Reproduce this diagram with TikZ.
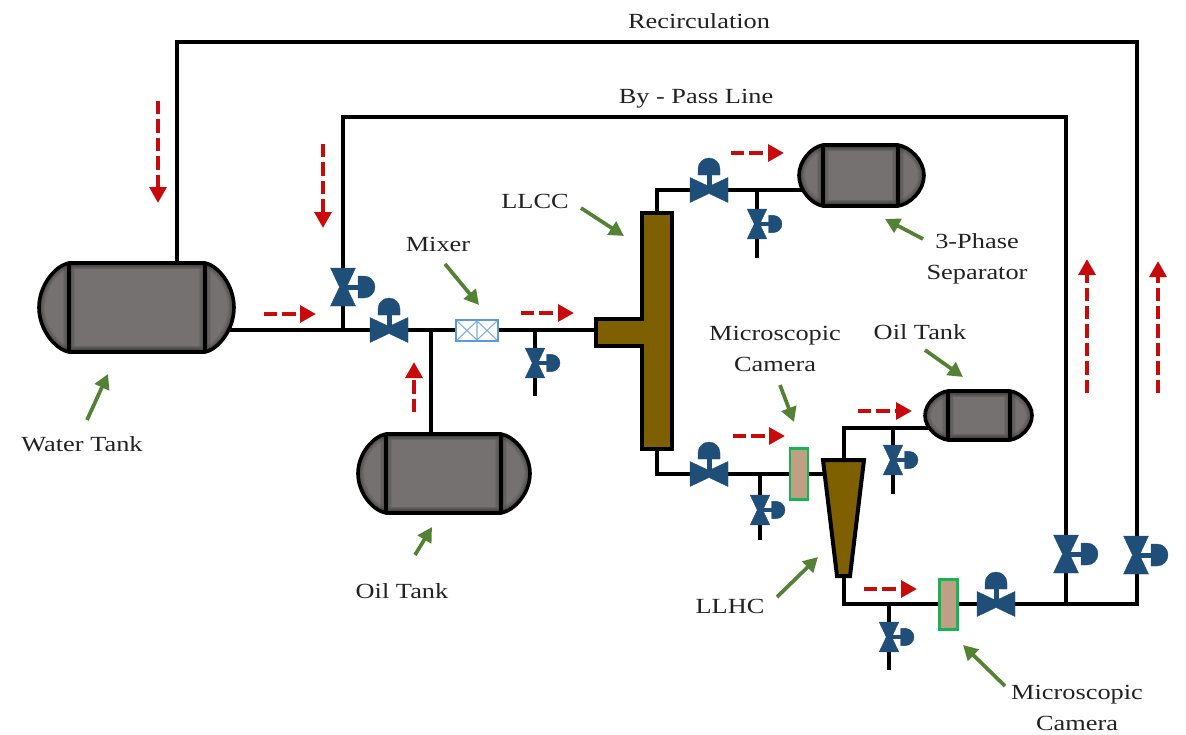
\documentclass[tikz,border=0pt]{standalone}
\usepackage{fontspec}
\setmainfont[FakeStretch=1.22]{Liberation Serif}
\usetikzlibrary{arrows.meta}
\definecolor{valveblue}{HTML}{1F4E79}
\definecolor{tankgray}{HTML}{757171}
\definecolor{tankedge}{HTML}{2E2C2C}
\definecolor{brownfill}{HTML}{7F6000}
\definecolor{camfill}{HTML}{BFA084}
\definecolor{camedge}{HTML}{16B455}
\definecolor{mixblue}{HTML}{5B9BD5}
\definecolor{flowred}{HTML}{C80A0A}
\definecolor{pointgreen}{HTML}{548235}
\definecolor{labelgray}{HTML}{222222}
\tikzset{
  pipe/.style={line width=2.7pt,black,line cap=butt,line join=miter},
  vessel/.style={draw=black,line width=3pt,fill=brownfill,line join=miter},
  valvepart/.style={fill=valveblue,draw=valveblue,line width=.3pt,line join=miter},
  flowarrow/.style={draw=flowred,line width=3pt,dash pattern=on 10pt off 3.8pt,-{Triangle[length=12pt,width=12.5pt,fill=flowred]}},
  pointarrow/.style={draw=pointgreen,line width=2.8pt,-{Triangle[length=11pt,width=11.5pt,fill=pointgreen]}},
  lbl/.style={text=labelgray,font=\fontsize{16.2pt}{23pt}\selectfont,align=center,inner sep=0pt},
  camerabox/.style={draw=camedge,line width=1.8pt,fill=camfill,inner sep=0pt},
}
% outline of a tank: x0 (left end), x1, x2 (heads), x3 (right end), y0, y1
\newcommand\tankpath[6]{(#1,{(#5+#6)/2}) .. controls (#1,{#5+.25*(#6-#5)}) and ({#2-.46*(#2-#1)},{#5+.03*(#6-#5)}) .. (#2,#5)
    -- (#3,#5) .. controls ({#3+.46*(#4-#3)},{#5+.03*(#6-#5)}) and (#4,{#5+.25*(#6-#5)}) .. (#4,{(#5+#6)/2})
    .. controls (#4,{#6-.25*(#6-#5)}) and ({#3+.46*(#4-#3)},{#6-.03*(#6-#5)}) .. (#3,#6)
    -- (#2,#6) .. controls ({#2-.46*(#2-#1)},{#6-.03*(#6-#5)}) and (#1,{#6-.25*(#6-#5)}) .. (#1,{(#5+#6)/2}) -- cycle}
% name, x0, x1, x2, x3, y0, y1
\newcommand\tank[7]{%
  \begin{scope}
    \clip \tankpath{#2}{#3}{#4}{#5}{#6}{#7};
    \fill[tankgray] \tankpath{#2}{#3}{#4}{#5}{#6}{#7};
    \foreach \w/\o in {9/.10,7/.14,5/.18,3/.25}{
      \draw[tankedge,line width=\w pt,opacity=\o] \tankpath{#2}{#3}{#4}{#5}{#6}{#7};
      \draw[tankedge,line width=\w pt,opacity=\o] (#3,#6) rectangle (#4,#7);
    }
  \end{scope}
  \draw[black,line width=2.7pt,line join=round] \tankpath{#2}{#3}{#4}{#5}{#6}{#7};
  \draw[black,line width=3.2pt] (#3,#6) -- (#3,#7) (#4,#6) -- (#4,#7);
  \coordinate (#1) at ({(#3+#4)/2},{(#6+#7)/2});
}
% x, y, rotation, scale
\newcommand\valve[4]{%
  \begin{scope}[shift={(#1,#2)},rotate=#3,scale=#4]
    \fill[valvepart] (-19,-12.5) -- (0,-3.5) -- (19,-12.5) -- (19,12.5) -- (0,3.5) -- (-19,12.5) -- cycle;
    \fill[valvepart] (-1.8,0) rectangle (1.8,-16);
    \fill[valvepart] (-11,-15) -- (11,-15) -- (11,-21) .. controls (11,-27) and (6,-32) .. (0,-32)
      .. controls (-6,-32) and (-11,-27) .. (-11,-21) -- cycle;
  \end{scope}}
% name, x1,y1, x2,y2
\newcommand\flow[5]{\coordinate (#1a) at (#2,#3); \coordinate (#1b) at (#4,#5); \draw[flowarrow] (#1a) -- (#1b);}
\newcommand\point[5]{\coordinate (#1a) at (#2,#3); \coordinate (#1b) at (#4,#5); \draw[pointarrow] (#1a) -- (#1b);}
\begin{document}
\begin{tikzpicture}[x=0.75pt,y=-0.75pt]
\useasboundingbox (0,0) rectangle (1186,735);
% junctions
\coordinate (wt-top) at (177,263);
\coordinate (wt-out) at (226,330);
\coordinate (rc1) at (177,42);
\coordinate (rc2) at (1137,42);
\coordinate (bp0) at (343,330);
\coordinate (bp1) at (343,117);
\coordinate (bp2) at (1066,117);
\coordinate (bj) at (1066,604);
\coordinate (rj) at (1137,604);
\coordinate (oj) at (431,330);
\coordinate (ot-top) at (431,434);
\coordinate (t-in) at (596,330);
\coordinate (dr1) at (535,330);
\coordinate (dr1e) at (535,396);
\coordinate (cc-top) at (657,213);
\coordinate (cc-tc) at (657,190);
\coordinate (sep-in) at (806,190);
\coordinate (dr2) at (757,190);
\coordinate (dr2e) at (757,258);
\coordinate (cc-bot) at (657,449);
\coordinate (cc-bc) at (657,474);
\coordinate (hc-in) at (826,474);
\coordinate (dr3) at (760,474);
\coordinate (dr3e) at (760,540);
\coordinate (hc-top) at (844,459);
\coordinate (hc-tc) at (844,428);
\coordinate (ot2-in) at (932,428);
\coordinate (dr4) at (893,428);
\coordinate (dr4e) at (893,494);
\coordinate (hc-bot) at (844,576);
\coordinate (hc-bc) at (844,604);
\coordinate (dr5) at (889,604);
\coordinate (dr5e) at (889,670);
% pipes
\draw[pipe] (wt-top) -- (rc1) -- (rc2) -- (rj) -- (hc-bc) -- (hc-bot);
\draw[pipe] (bp0) -- (bp1) -- (bp2) -- (bj);
\draw[pipe] (wt-out) -- (t-in);
\draw[pipe] (oj) -- (ot-top);
\draw[pipe] (dr1) -- (dr1e);
\draw[pipe] (cc-top) -- (cc-tc) -- (sep-in);
\draw[pipe] (dr2) -- (dr2e);
\draw[pipe] (cc-bot) -- (cc-bc) -- (hc-in);
\draw[pipe] (dr3) -- (dr3e);
\draw[pipe] (hc-top) -- (hc-tc) -- (ot2-in);
\draw[pipe] (dr4) -- (dr4e);
\draw[pipe] (dr5) -- (dr5e);
% tanks
\tank{watertank}{39}{69}{205}{234}{263}{352}
\tank{oiltank}{358}{386}{501}{530}{434}{513}
\tank{separator}{799}{823}{898}{924}{145}{206}
\tank{oiltanktwo}{925}{948}{1010}{1032}{391}{440}
% LLCC
\draw[vessel] (642,213) -- (672,213) -- (672,449) -- (642,449) -- (642,346) -- (596,346) -- (596,319) -- (642,319) -- cycle;
% LLHC
\draw[vessel] (823,460) -- (864,460) -- (850,576) -- (837,576) -- cycle;
% mixer
\node[draw=mixblue,line width=1.9pt,fill=white,minimum width=31.5pt,minimum height=15.5pt,inner sep=0pt] (mixer) at (477,330.5) {};
\draw[mixblue!80,line width=.8pt] (457,321) -- (477,340) (477,321) -- (457,340) (477,321) -- (497,340) (497,321) -- (477,340) (477,321) -- (477,340);
% cameras
\node[camerabox,minimum width=13.5pt,minimum height=38.5pt] (camone) at (799,474) {};
\node[camerabox,minimum width=13.5pt,minimum height=37.5pt] (camtwo) at (948.5,604.5) {};
% valves
\valve{343}{287}{-90}{1}
\valve{389}{330}{0}{1}
\valve{535}{363}{-90}{.78}
\valve{709}{190}{0}{1}
\valve{757}{224}{-90}{.78}
\valve{709}{474}{0}{1}
\valve{760}{510}{-90}{.78}
\valve{893}{460}{-90}{.78}
\valve{889}{637}{-90}{.78}
\valve{996}{604}{0}{1}
\valve{1066}{554}{-90}{1}
\valve{1136}{555}{-90}{1}
% flow arrows
\flow{fa}{264}{314}{316}{314}
\flow{fb}{158}{101}{158}{203}
\flow{fc}{323}{144}{323}{228}
\flow{fd}{414}{412}{414}{362}
\flow{fe}{521}{313}{574}{313}
\flow{ff}{731}{153}{784}{153}
\flow{fg}{733}{436}{785}{436}
\flow{fh}{858}{411}{912}{411}
\flow{fi}{864}{589}{917}{589}
\flow{fj}{1087}{393}{1087}{259}
\flow{fk}{1158}{393}{1158}{261}
% pointer arrows
\point{pa}{87}{420}{108}{374}
\point{pb}{581}{208}{624}{236}
\point{pc}{445}{264}{479}{305}
\point{pd}{923}{239}{885}{219}
\point{pe}{415}{555}{432}{527}
\point{pf}{925}{350}{963}{377}
\point{pg}{780}{385}{794}{422}
\point{ph}{777}{597}{818}{557}
\point{pi}{1005}{686}{963}{645}
% labels
\node[lbl] (l1) at (699,21) {Recirculation};
\node[lbl] (l2) at (696,99) {By - Pass Line};
\node[lbl] (l3) at (535,201) {LLCC};
\node[lbl] (l4) at (438,244) {Mixer};
\node[lbl] (l5) at (977,259) {3-Phase\\Separator};
\node[lbl] (l6) at (775,349) {Microscopic\\Camera};
\node[lbl] (l7) at (920,332) {Oil Tank};
\node[lbl] (l8) at (82,444) {Water Tank};
\node[lbl] (l9) at (402,591) {Oil Tank};
\node[lbl] (l10) at (730,606) {LLHC};
\node[lbl] (l11) at (1077,708) {Microscopic\\Camera};
\end{tikzpicture}
\end{document}
